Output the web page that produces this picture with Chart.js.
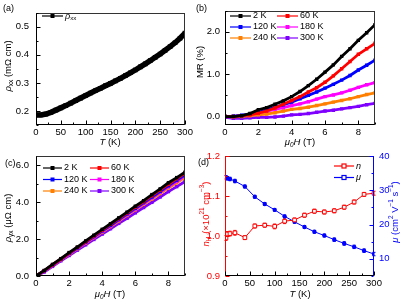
<!DOCTYPE html>
<html lang="en">
<head>
<meta charset="UTF-8">
<script src="https://cdn.jsdelivr.net/npm/chart.js@4.4.0/dist/chart.umd.min.js"></script>
<title>Transport panels</title>
<style>
  body { margin: 0; background: #fff; }
  canvas { position: absolute; left: 0; top: 0; }
</style>
</head>
<body>
<canvas id="ca" width="406" height="304"></canvas>
<canvas id="cb" width="406" height="304"></canvas>
<canvas id="cc" width="406" height="304"></canvas>
<canvas id="cd" width="406" height="304"></canvas>
<script>
var FONT = '"Liberation Sans Narrow", "Liberation Sans", Arial, sans-serif';

// (a) rho_xx vs T
var tempA = [0,10,20,30,40,50,60,70,80,90,100,110,120,130,140,150,160,170,180,190,200,210,220,230,240,250,260,270,280,290,300];
var rhoXX = [0.186,0.186,0.189,0.195,0.203,0.211,0.219,0.228,0.237,0.246,0.255,0.264,0.273,0.281,0.290,0.298,0.307,0.316,0.326,0.336,0.346,0.357,0.368,0.379,0.391,0.403,0.416,0.429,0.443,0.459,0.477];

// field values shared by (b) and (c)
var field = [0,0.5,1,1.5,2,2.5,3,3.5,4,4.5,5,5.5,6,6.5,7,7.5,8,8.5,9];
var tempLabels = ['2 K','60 K','120 K','180 K','240 K','300 K'];

// (b) MR (%)
var mr2   = [0.00,0.00,0.02,0.07,0.16,0.21,0.29,0.37,0.47,0.59,0.73,0.88,1.05,1.22,1.42,1.60,1.80,1.98,2.17];
var mr60  = [0.00,0.00,0.02,0.04,0.08,0.13,0.20,0.29,0.38,0.47,0.58,0.68,0.81,0.96,1.13,1.30,1.47,1.60,1.73];
var mr120 = [0.00,0.01,0.03,0.06,0.10,0.16,0.22,0.28,0.34,0.42,0.50,0.58,0.67,0.76,0.86,0.97,1.10,1.21,1.33];
var mr180 = [0.00,0.00,0.02,0.05,0.09,0.13,0.17,0.21,0.26,0.30,0.35,0.41,0.47,0.51,0.56,0.62,0.69,0.75,0.80];
var mr240 = [0.00,-0.01,0.00,0.02,0.04,0.06,0.09,0.13,0.17,0.19,0.22,0.26,0.30,0.34,0.38,0.42,0.47,0.52,0.56];
var mr300 = [-0.02,-0.04,-0.04,-0.03,-0.02,-0.02,-0.01,0.01,0.04,0.05,0.07,0.10,0.13,0.15,0.18,0.21,0.24,0.28,0.31];

// (c) rho_yx (uOhm cm)
var ryx2   = [0,0.30,0.63,0.94,1.27,1.57,1.90,2.21,2.53,2.83,3.15,3.46,3.78,4.08,4.41,4.72,5.05,5.33,5.62];
var ryx60  = [0,0.29,0.61,0.92,1.24,1.55,1.86,2.18,2.49,2.80,3.11,3.42,3.73,4.03,4.35,4.66,4.97,5.28,5.56];
var ryx120 = [0,0.28,0.60,0.90,1.22,1.52,1.83,2.14,2.45,2.75,3.06,3.37,3.67,3.98,4.28,4.58,4.89,5.19,5.48];
var ryx180 = [0,0.28,0.59,0.89,1.20,1.50,1.81,2.11,2.42,2.72,3.03,3.33,3.63,3.94,4.24,4.54,4.84,5.13,5.42];
var ryx240 = [0,0.27,0.58,0.88,1.18,1.48,1.78,2.08,2.38,2.68,2.98,3.28,3.58,3.88,4.17,4.47,4.77,5.05,5.34];
var ryx300 = [0,0.22,0.52,0.82,1.11,1.40,1.69,1.98,2.27,2.56,2.85,3.13,3.42,3.71,3.99,4.28,4.57,4.84,5.12];

// (d) carrier density and mobility
var tempD = [2,5,10,20,40,60,80,100,120,140,160,180,200,220,240,260,280,300];
var nH    = [0.995,1.005,1.006,1.008,0.996,1.025,1.027,1.024,1.037,1.040,1.052,1.062,1.060,1.063,1.072,1.085,1.104,1.107];
var nErr  = [0.006,0.006,0.006,0.006,0.005,0.005,0.005,0.006,0.006,0.005,0.005,0.005,0.005,0.005,0.005,0.005,0.005,0.005];
var mu    = [33.8,33.5,33.3,32.7,31.1,28.1,26.0,24.3,22.4,20.8,19.3,17.9,16.8,15.6,14.5,13.5,12.4,11.4];
var muErr = [0.5,0.5,0.5,0.5,0.4,0.4,0.4,0.4,0.4,0.4,0.4,0.4,0.4,0.5,0.5,0.5,0.5,0.5];

// tick values
var tTicks = [0,50,100,150,200,250,300];
var hTicks = [0,2,4,6,8];
var rhoTicks = [0.2,0.3,0.4,0.5];
var mrTicks = [0.0,1.0,2.0];
var ryxTicks = [0.0,2.0,4.0,6.0];
var nTicks = [0.9,1.0,1.1,1.2];
var muTicks = [10,20,30,40];

var colors = ['#000000','#ff0000','#0000ff','#ff00ff','#ff8000','#8000ff'];

function pts(xs, ys) { return xs.map(function (x, i) { return { x: x, y: ys[i] }; }); }

// text with italic / subscript / superscript pieces
function rich(ctx, parts, x, y, size, color, rot, align) {
  ctx.save();
  ctx.translate(x, y);
  if (rot) ctx.rotate(rot);
  ctx.fillStyle = color;
  ctx.textBaseline = 'middle';
  function fontOf(f) {
    var small = f.indexOf('s') >= 0 || f.indexOf('p') >= 0;
    return (f.indexOf('i') >= 0 ? 'italic ' : '') + (small ? size * 0.68 : size) + 'px ' + FONT;
  }
  var w = 0;
  parts.forEach(function (p) { ctx.font = fontOf(p[1] || ''); w += ctx.measureText(p[0]).width; });
  var cx = align === 'left' ? 0 : -w / 2;
  parts.forEach(function (p) {
    var f = p[1] || '';
    ctx.font = fontOf(f);
    var dy = f.indexOf('s') >= 0 ? size * 0.3 : (f.indexOf('p') >= 0 ? -size * 0.35 : 0);
    ctx.fillText(p[0], cx, dy);
    cx += ctx.measureText(p[0]).width;
  });
  ctx.restore();
}

function scale(pos, min, max, ticks, size, fmt, color, pad) {
  var horiz = pos === 'bottom';
  return {
    type: 'linear', position: pos, min: min, max: max,
    grid: { display: false, drawTicks: false }, border: { display: false },
    ticks: {
      autoSkip: false, maxRotation: 0, padding: pad, color: color || '#000',
      font: { family: FONT, size: 9.5 },
      callback: function (v) { return fmt ? v.toFixed(fmt) : String(v); }
    },
    afterBuildTicks: function (s) { s.ticks = ticks.map(function (v) { return { value: v }; }); },
    afterFit: function (s) { if (horiz) s.height = size; else s.width = size; }
  };
}

function minorOf(ticks, min, max) {
  var step = ticks[1] - ticks[0], out = [];
  for (var i = -1; i < ticks.length; i++) {
    var v = (i < 0 ? ticks[0] - step : ticks[i]) + step / 2;
    if (v >= min - 1e-9 && v <= max + 1e-9) out.push(v);
  }
  return out;
}

// frame, inward ticks, titles, legend, panel letter
function decor(cfg) {
  return {
    id: 'decor',
    beforeDatasetsDraw: function (chart) {
      var ctx = chart.ctx;
      chart.data.datasets.forEach(function (ds) {
        if (!ds.errs) return;
        var xs = chart.scales.x, ys = chart.scales[ds.yAxisID || 'y'];
        ctx.save();
        ctx.strokeStyle = ds.borderColor; ctx.lineWidth = 1;
        ds.data.forEach(function (p, i) {
          var px = xs.getPixelForValue(p.x);
          var y1 = ys.getPixelForValue(p.y - ds.errs[i]), y2 = ys.getPixelForValue(p.y + ds.errs[i]);
          ctx.beginPath();
          ctx.moveTo(px, y1); ctx.lineTo(px, y2);
          ctx.moveTo(px - 1.5, y1); ctx.lineTo(px + 1.5, y1);
          ctx.moveTo(px - 1.5, y2); ctx.lineTo(px + 1.5, y2);
          ctx.stroke();
        });
        ctx.restore();
      });
    },
    afterDraw: function (chart) {
      var ctx = chart.ctx, a = chart.chartArea;
      var L = Math.round(a.left) + 0.5, R = Math.round(a.right) - 0.5, T = Math.round(a.top) + 0.5, B = Math.round(a.bottom) - 0.5;
      ctx.save();
      ctx.lineWidth = 1;
      function seg(x1, y1, x2, y2, c) { ctx.strokeStyle = c; ctx.beginPath(); ctx.moveTo(x1, y1); ctx.lineTo(x2, y2); ctx.stroke(); }
      seg(L - 0.5, T, R + 0.5, T, '#333');
      seg(L - 0.5, B, R + 0.5, B, '#000');
      seg(L, T, L, B, cfg.leftColor || '#000');
      seg(R, T, R, B, cfg.rightColor || '#333');
      cfg.ticks.forEach(function (t) {
        var s = chart.scales[t.id];
        var all = t.major.map(function (v) { return [v, 4]; }).concat(minorOf(t.major, s.min, s.max).map(function (v) { return [v, 2]; }));
        all.forEach(function (m) {
          var p = Math.round(s.getPixelForValue(m[0])) + 0.5;
          if (t.side === 'bottom') seg(p, B, p, B - m[1], t.color || '#000');
          else if (t.side === 'left') seg(L, p, L + m[1], p, t.color || '#000');
          else seg(R, p, R - m[1], p, t.color || '#000');
        });
      });
      ctx.restore();
      cfg.titles.forEach(function (t) { rich(ctx, t.parts, t.x, t.y, t.size || 9.5, t.color || '#000', t.rot || 0); });
      ctx.save();
      ctx.font = '9px ' + FONT; ctx.fillStyle = '#000'; ctx.textBaseline = 'middle';
      ctx.fillText(cfg.letter[0], cfg.letter[1], cfg.letter[2]);
      ctx.restore();
      var lg = cfg.legend;
      chart.data.datasets.forEach(function (ds, i) {
        var col = lg.cols > 1 ? i % 2 : 0, row = lg.cols > 1 ? Math.floor(i / 2) : i;
        var x0 = lg.x[col], y = lg.y + row * lg.dy;
        ctx.save();
        ctx.strokeStyle = ds.borderColor; ctx.lineWidth = 1.2;
        ctx.beginPath(); ctx.moveTo(x0, y); ctx.lineTo(x0 + lg.len, y); ctx.stroke();
        var mx = x0 + lg.len / 2;
        if (lg.open) {
          ctx.fillStyle = '#fff'; ctx.fillRect(mx - 2, y - 2, 4, 4);
          ctx.strokeRect(mx - 2, y - 2, 4, 4);
        } else {
          ctx.fillStyle = ds.borderColor; ctx.fillRect(mx - 2, y - 2, 4, 4);
        }
        ctx.restore();
        rich(ctx, lg.text[i], x0 + lg.len + 2, y, 9, '#000', 0, 'left');
      });
    }
  };
}

function lineSet(label, xs, ys, color, r, w) {
  return {
    label: label, data: pts(xs, ys), borderColor: color, backgroundColor: color,
    borderWidth: w, pointStyle: 'rect', pointRadius: r, pointBorderWidth: 0,
    pointBackgroundColor: color, tension: 0
  };
}

var common = {
  responsive: false, animation: false, devicePixelRatio: 1,
  plugins: { legend: { display: false }, tooltip: { enabled: false } },
  events: []
};

function opts(pad, scales) {
  return Object.assign({}, common, { layout: { padding: pad }, scales: scales });
}

var sizedText = function (arr) { return arr.map(function (s) { return [[s, '']]; }); };
var muH = [['μ', 'i'], ['0', 'is'], ['H', 'i'], [' (T)', '']];
var tK = [['T', 'i'], [' (K)', '']];

// (a)
new Chart(document.getElementById('ca'), {
  type: 'line',
  data: { datasets: [lineSet('rho', tempA, rhoXX, '#000', 3.3, 5.5)] },
  options: opts({ left: 0, top: 5, right: 221, bottom: 152 }, {
    x: scale('bottom', 0, 300, tTicks, 27, 0, '#000', 2),
    y: scale('left', 0.15, 0.55, rhoTicks, 36, 1, '#000', 7)
  }),
  plugins: [decor({
    letter: ['(a)', 3, 9],
    ticks: [{ id: 'x', side: 'bottom', major: tTicks }, { id: 'y', side: 'left', major: rhoTicks }],
    titles: [
      { parts: tK, x: 110, y: 142 },
      { parts: [['ρ', 'i'], ['xx', 's'], [' (mΩ cm)', '']], x: 8, y: 66, rot: -Math.PI / 2 }
    ],
    legend: { cols: 1, x: [42], y: 16, dy: 11, len: 21, text: [[['ρ', 'i'], ['xx', 's']]] }
  })]
});

// (b)
var mrSets = [mr2, mr60, mr120, mr180, mr240, mr300];
new Chart(document.getElementById('cb'), {
  type: 'line',
  data: { datasets: mrSets.map(function (d, i) { return lineSet(tempLabels[i], field, d, colors[i], 2.4, 2.8); }) },
  options: opts({ left: 203, top: 5, right: 31, bottom: 152 }, {
    x: scale('bottom', 0, 9, hTicks, 27, 0, '#000', 2),
    y: scale('left', -0.2, 2.5, mrTicks, 22, 1, '#000', 5)
  }),
  plugins: [decor({
    letter: ['(b)', 196, 9],
    ticks: [{ id: 'x', side: 'bottom', major: hTicks }, { id: 'y', side: 'left', major: mrTicks }],
    titles: [
      { parts: muH, x: 300, y: 142 },
      { parts: [['MR (%)', '']], x: 200, y: 62, rot: -Math.PI / 2 }
    ],
    legend: { cols: 2, x: [230, 277], y: 16, dy: 11, len: 21, text: sizedText(tempLabels) }
  })]
});

// (c)
var ryxSets = [ryx2, ryx60, ryx120, ryx180, ryx240, ryx300];
new Chart(document.getElementById('cc'), {
  type: 'line',
  data: { datasets: ryxSets.map(function (d, i) { return lineSet(tempLabels[i], field, d, colors[i], 2.4, 2.8); }) },
  options: opts({ left: 0, top: 156, right: 221, bottom: 0 }, {
    x: scale('bottom', 0, 9, hTicks, 28, 0, '#000', 2),
    y: scale('left', 0, 6.5, ryxTicks, 36, 1, '#000', 7)
  }),
  plugins: [decor({
    letter: ['(c)', 5, 164],
    ticks: [{ id: 'x', side: 'bottom', major: hTicks }, { id: 'y', side: 'left', major: ryxTicks }],
    titles: [
      { parts: muH, x: 110, y: 294 },
      { parts: [['ρ', 'i'], ['yx', 's'], [' (μΩ cm)', '']], x: 8, y: 218, rot: -Math.PI / 2 }
    ],
    legend: { cols: 2, x: [43, 90], y: 168, dy: 11.5, len: 19, text: sizedText(tempLabels) }
  })]
});

// (d)
var nSet = lineSet('n', tempD, nH, '#ff0000', 2.6, 1);
nSet.pointBackgroundColor = '#fff'; nSet.pointBorderColor = '#ff0000'; nSet.pointBorderWidth = 1; nSet.errs = nErr;
var muSet = lineSet('μ', tempD, mu, '#0000ff', 2.2, 1);
muSet.pointStyle = 'circle'; muSet.yAxisID = 'y2'; muSet.errs = muErr;
new Chart(document.getElementById('cd'), {
  type: 'line',
  data: { datasets: [nSet, muSet] },
  options: opts({ left: 203, top: 156, right: 0, bottom: 0 }, {
    x: scale('bottom', 0, 300, tTicks, 28, 0, '#000', 2),
    y: scale('left', 0.9, 1.2, nTicks, 22, 1, '#ff0000', 5),
    y2: scale('right', 5, 40, muTicks, 32, 0, '#0000ff', 5)
  }),
  plugins: [decor({
    letter: ['(d)', 198, 163],
    leftColor: '#ff0000', rightColor: '#0000ff',
    ticks: [
      { id: 'x', side: 'bottom', major: tTicks },
      { id: 'y', side: 'left', major: nTicks, color: '#ff0000' },
      { id: 'y2', side: 'right', major: muTicks, color: '#0000ff' }
    ],
    titles: [
      { parts: tK, x: 300, y: 294 },
      { parts: [['n', 'i'], ['H', 's'], [' (×10', ''], ['21', 'p'], [' cm', ''], ['−3', 'p'], [')', '']], x: 206, y: 214, rot: -Math.PI / 2, color: '#ff0000' },
      { parts: [['μ', 'i'], [' (cm', ''], ['2', 'p'], [' V', ''], ['−1', 'p'], [' s', ''], ['−1', 'p'], [')', '']], x: 395, y: 212, rot: -Math.PI / 2, color: '#0000ff' }
    ],
    legend: { cols: 1, open: true, x: [334], y: 166, dy: 11.5, len: 20, text: [[['n', 'i']], [['μ', 'i']]] }
  })]
});
</script>
</body>
</html>
